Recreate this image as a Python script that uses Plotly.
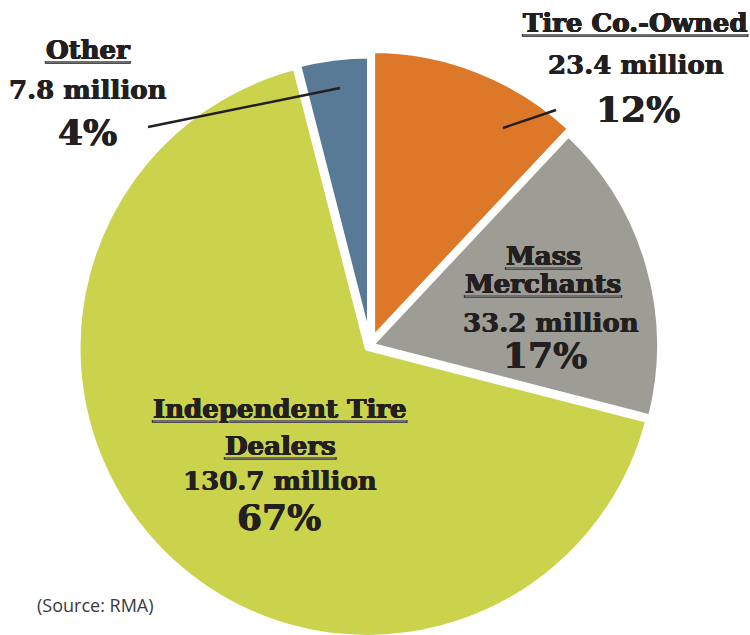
import plotly.graph_objects as go

# Tire retail market share by outlet type (units sold)
categories = ["Tire Co.-Owned", "Mass Merchants", "Independent Tire Dealers", "Other"]
title_lines = [["Tire Co.-Owned"], ["Mass", "Merchants"], ["Independent Tire", "Dealers"], ["Other"]]
units_millions = [23.4, 33.2, 130.7, 7.8]
share_pct = [12, 17, 67, 4]
source_note = "(Source: RMA)"

colors = ["#DC7828", "#9E9D95", "#CBD24B", "#587A96"]
pulls = [0.02, 0.0, 0.012, 0.0]

FIG_W, FIG_H = 750, 680
INK = "#231F20"
RULE = "#6E6E6E"
SERIF = "DejaVu Serif"
HEAVY = "0.45px 0 0 #231F20, -0.45px 0 0 #231F20"


def px(x):
    return x / FIG_W


def py(y):
    return 1 - y / FIG_H


fig = go.Figure()
fig.add_trace(go.Pie(
    labels=categories,
    values=units_millions,
    sort=False,
    direction="clockwise",
    rotation=0,
    pull=pulls,
    marker=dict(colors=colors, line=dict(color="white", width=6)),
    textinfo="none",
    hoverinfo="label+value+percent",
    showlegend=False,
    domain=dict(x=[px(74.2), px(665.8)], y=[py(641.2), py(49.6)]),
))

# label blocks: title line mids, value position, percent position (pixels)
blocks = [
    dict(x=635, titles=[22.6], vx=636, vy=64.9, px_=637.5, py_=109.1),
    dict(x=543, titles=[255.9, 284.2], vx=551, vy=322.6, px_=545, py_=355.4),
    dict(x=280, titles=[409.2, 445.9], vx=280, vy=480.9, px_=279, py_=517.4),
    dict(x=87.5, titles=[50.2], vx=87.5, vy=89.9, px_=87, py_=132.4),
]


def underlined(s):
    # grey rule under dark lettering
    return (f'<span style="color:{RULE}"><u><span style="color:{INK}">'
            f'<b>{s}</b></span></u></span>')


annotations = []
for i, b in enumerate(blocks):
    for line, ym in zip(title_lines[i], b["titles"]):
        annotations.append(dict(
            text=underlined(line), x=px(b["x"]), y=py(ym),
            font=dict(family=SERIF, size=26, color=INK, shadow=HEAVY)))
    annotations.append(dict(
        text=f"<b>{units_millions[i]:.1f} million</b>", x=px(b["vx"]), y=py(b["vy"]),
        font=dict(family=SERIF, size=26, color=INK, shadow=HEAVY)))
    annotations.append(dict(
        text=f"<b>{share_pct[i]}%</b>", x=px(b["px_"]), y=py(b["py_"]),
        font=dict(family=SERIF, size=36, color=INK, shadow=HEAVY)))

for a in annotations:
    a.update(xref="paper", yref="paper", xanchor="center", yanchor="middle", showarrow=False)

annotations.append(dict(
    text=source_note, x=px(35), y=py(604.7), xref="paper", yref="paper",
    xanchor="left", yanchor="middle", showarrow=False,
    font=dict(family="Open Sans", size=18, color="#3A3A3A")))

# leader lines from the outside labels into their slices
leaders = [((148, 127), (340, 88)), ((503, 128), (556, 110))]
shapes = [
    dict(type="line", xref="paper", yref="paper",
         x0=px(a[0]), y0=py(a[1]), x1=px(b[0]), y1=py(b[1]),
         line=dict(color=INK, width=2.5))
    for a, b in leaders
]

fig.update_layout(
    width=FIG_W, height=FIG_H,
    margin=dict(l=0, r=0, t=0, b=0),
    paper_bgcolor="white", plot_bgcolor="white",
    annotations=annotations, shapes=shapes,
)

fig.write_html("out.html")
